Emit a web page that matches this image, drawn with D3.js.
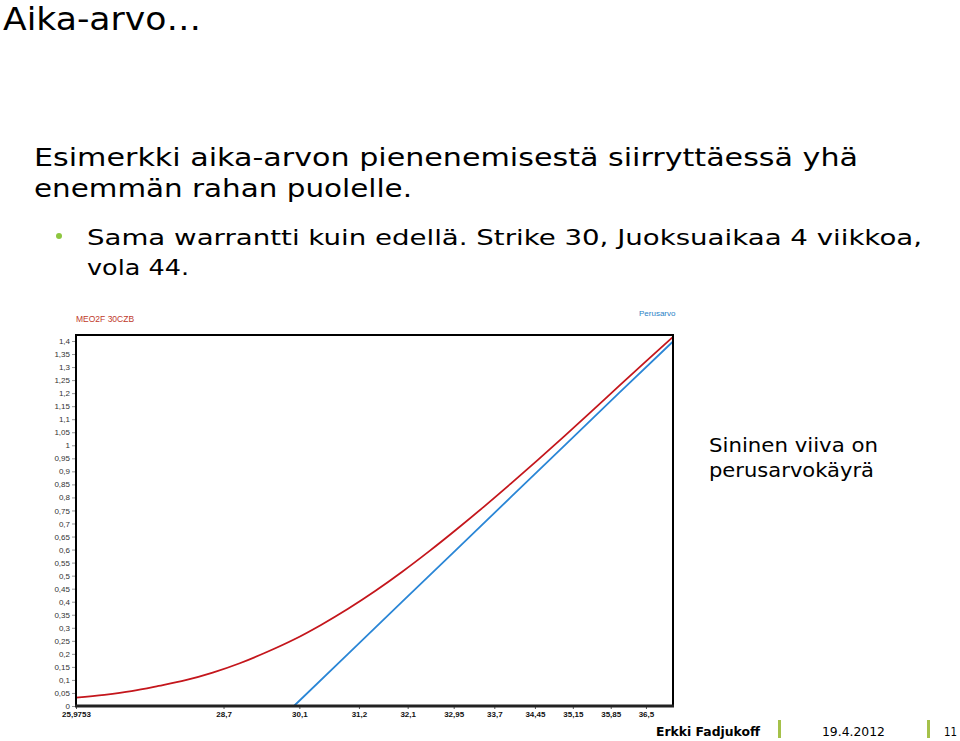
<!DOCTYPE html>
<html>
<head>
<meta charset="utf-8">
<script src="https://cdn.jsdelivr.net/npm/d3@7"></script>
<style>
  body { margin: 0; background: #fff; }
  svg { display: block; }
</style>
</head>
<body>
<svg id="slide" width="960" height="741"></svg>
<script>
// Osakekurssi (x) ja warrantin arvo (punainen) / perusarvo (sininen)
let spot = [25.9753, 26.5, 27, 27.5, 28, 28.5, 29, 29.5, 30, 30.5, 31, 31.5, 32, 32.5, 33, 33.5, 34, 34.5, 35, 35.5, 36, 36.5, 37];
let warrantValue = [0.032, 0.043, 0.057, 0.077, 0.099, 0.128, 0.164, 0.207, 0.255, 0.311, 0.373, 0.441, 0.515, 0.594, 0.677, 0.763, 0.852, 0.943, 1.036, 1.131, 1.227, 1.322, 1.416];
let baseSpot = [30.0, 31, 32, 33, 34, 35, 36, 37];
let baseValue = [0, 0.2, 0.4, 0.6, 0.8, 1.0, 1.2, 1.398];

let xTicks = [25.9753, 28.7, 30.1, 31.2, 32.1, 32.95, 33.7, 34.45, 35.15, 35.85, 36.5];
let yTicks = d3.range(0, 29).map(i => +(i * 0.05).toFixed(2));

let svg = d3.select("#slide");
let font = "'DejaVu Sans', Verdana, sans-serif";
let small = "'Liberation Sans', Arial, sans-serif";
let comma = v => String(v).replace(".", ",");

// Otsikko ja teksti
svg.append("text").attr("x", 3).attr("y", 30)
  .attr("font-family", font).attr("font-size", 32).attr("fill", "#000")
  .attr("textLength", 198).attr("lengthAdjust", "spacingAndGlyphs")
  .text("Aika-arvo…");

let lines = [
  {t: "Esimerkki aika-arvon pienenemisestä siirryttäessä yhä", x: 34, y: 166, s: 24, w: 824},
  {t: "enemmän rahan puolelle.", x: 34, y: 197, s: 24, w: 378},
  {t: "Sama warrantti kuin edellä. Strike 30, Juoksuaikaa 4 viikkoa,", x: 87, y: 245, s: 22, w: 835},
  {t: "vola 44.", x: 87, y: 275, s: 22, w: 102}
];
lines.forEach(l => {
  svg.append("text").attr("x", l.x).attr("y", l.y)
    .attr("font-family", font).attr("font-size", l.s).attr("fill", "#000")
    .attr("textLength", l.w).attr("lengthAdjust", "spacingAndGlyphs")
    .text(l.t);
});
svg.append("circle").attr("cx", 59).attr("cy", 236).attr("r", 3).attr("fill", "#8dc63f");

// Kaavio
let x = d3.scaleLinear().domain([25.9753, 37.0]).range([76, 673]);
let y = d3.scaleLinear().domain([0, 1.423]).range([706, 335]);

let yAxis = svg.append("g").attr("transform", "translate(76,0)")
  .call(d3.axisLeft(y).tickValues(yTicks).tickSize(4).tickFormat(comma));
yAxis.select(".domain").remove();
yAxis.selectAll("line").attr("stroke", "#999");
yAxis.selectAll("text").attr("font-family", small)
  .attr("font-size", 8).attr("fill", "#333").attr("x", -6);

let xAxis = svg.append("g").attr("transform", "translate(0,706)")
  .call(d3.axisBottom(x).tickValues(xTicks).tickSize(3).tickFormat(comma));
xAxis.select(".domain").remove();
xAxis.selectAll("line").attr("stroke", "#555");
xAxis.selectAll("text").attr("font-family", small)
  .attr("font-size", 8).attr("font-weight", "bold").attr("fill", "#111").attr("y", 5);

let line = d3.line().x(d => x(d[0])).y(d => y(d[1]));

svg.append("path").datum(d3.zip(baseSpot, baseValue))
  .attr("d", line).attr("fill", "none").attr("stroke", "#2a86d6").attr("stroke-width", 1.8);
svg.append("path").datum(d3.zip(spot, warrantValue))
  .attr("d", line.curve(d3.curveMonotoneX)).attr("fill", "none")
  .attr("stroke", "#c4161c").attr("stroke-width", 1.8);

// Kehys
svg.append("path")
  .attr("d", `M${x.range()[0]},${y.range()[0]}V${y.range()[1]}H${x.range()[1]}V${y.range()[0]}`)
  .attr("fill", "none").attr("stroke", "#000").attr("stroke-width", 2);
svg.append("line").attr("x1", 75).attr("x2", 674).attr("y1", 706).attr("y2", 706)
  .attr("stroke", "#222").attr("stroke-width", 3);

svg.append("text").attr("x", 76).attr("y", 322)
  .attr("font-family", small).attr("font-size", 8.5)
  .attr("fill", "#c0392b").text("MEO2F 30CZB");
svg.append("text").attr("x", 639).attr("y", 316)
  .attr("font-family", small).attr("font-size", 8)
  .attr("fill", "#2a7fc6").text("Perusarvo");

svg.append("text").attr("x", 709).attr("y", 452)
  .attr("font-family", font).attr("font-size", 20).attr("fill", "#000")
  .attr("textLength", 169).attr("lengthAdjust", "spacingAndGlyphs").text("Sininen viiva on");
svg.append("text").attr("x", 709).attr("y", 477)
  .attr("font-family", font).attr("font-size", 20).attr("fill", "#000")
  .attr("textLength", 165).attr("lengthAdjust", "spacingAndGlyphs").text("perusarvokäyrä");

// Alatunniste
svg.append("text").attr("x", 656).attr("y", 736)
  .attr("font-family", font).attr("font-size", 13).attr("font-weight", "bold")
  .attr("textLength", 104).attr("lengthAdjust", "spacingAndGlyphs").text("Erkki Fadjukoff");
svg.append("rect").attr("x", 778).attr("y", 720).attr("width", 3).attr("height", 18).attr("fill", "#a5c14a");
svg.append("text").attr("x", 822).attr("y", 736)
  .attr("font-family", font).attr("font-size", 13)
  .attr("textLength", 63).attr("lengthAdjust", "spacingAndGlyphs").text("19.4.2012");
svg.append("rect").attr("x", 927).attr("y", 720).attr("width", 3).attr("height", 18).attr("fill", "#a5c14a");
svg.append("text").attr("x", 944).attr("y", 736)
  .attr("font-family", font).attr("font-size", 12.5)
  .attr("textLength", 13).attr("lengthAdjust", "spacingAndGlyphs").text("11");
</script>
</body>
</html>
